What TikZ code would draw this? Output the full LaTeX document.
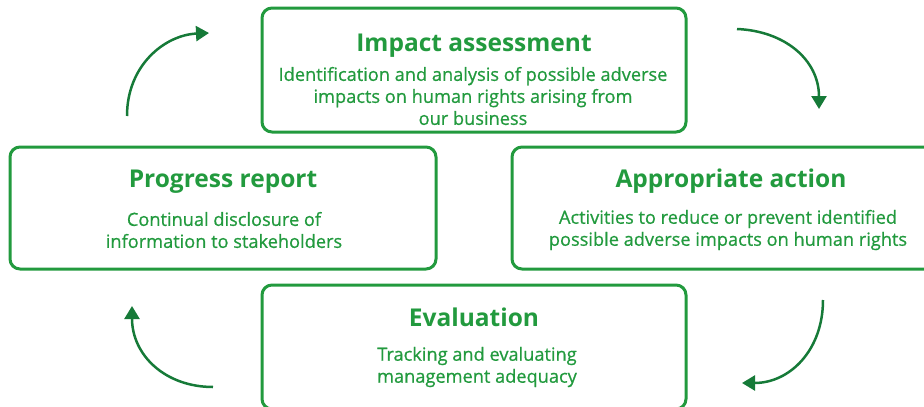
\documentclass[tikz,border=0pt]{standalone}
\usepackage{fontspec}
\setmainfont{Open Sans}
\newfontfamily\bodyfont[FakeBold=0.7]{Open Sans}
\usetikzlibrary{arrows.meta}
\definecolor{boxgreen}{RGB}{34,154,62}
\definecolor{arrowgreen}{RGB}{22,122,56}
\tikzset{
  panel/.style={draw=boxgreen,line width=3pt,rounded corners=10pt,inner sep=0pt},
  head/.style={text=boxgreen,font=\fontsize{24.5}{28}\selectfont\bfseries,anchor=base},
  body/.style={text=boxgreen,font=\bodyfont\fontsize{18.2}{22}\selectfont,align=center},
  cyclearrow/.style={draw=arrowgreen,line width=2.5pt,-{Triangle[length=13pt,width=15pt]}}
}
\begin{document}
\begin{tikzpicture}[x=1pt,y=-1pt]
\useasboundingbox (0,0) rectangle (924,407);
\clip (0,0) rectangle (924,407);
% the four stages
\node[panel,minimum width=424pt,minimum height=124pt] (assess) at (474,70) {};
\node[panel,minimum width=426pt,minimum height=122pt] (report) at (223,208) {};
\node[panel,minimum width=438pt,minimum height=122pt] (action) at (731,208) {};
\node[panel,minimum width=424pt,minimum height=124pt] (evalu) at (474,347) {};

\node[head] (assess-t) at (474,51) {Impact assessment};
\node[body] (assess-d) at (473,96) {Identification and analysis of possible adverse\\
  impacts on human rights arising from\\ our business};

\node[head] (report-t) at (223,187) {Progress report};
\node[body] (report-d) at (224,230) {Continual disclosure of\\ information to stakeholders};

\node[head] (action-t) at (731,187) {Appropriate action};
\node[body] (action-d) at (728,230) {Activities to reduce or prevent identified\\
  possible adverse impacts on human rights};

\node[head] (evalu-t) at (474,326) {Evaluation};
\node[body] (evalu-d) at (477,367) {Tracking and evaluating\\ management adequacy};

% arrows going round clockwise
\coordinate (tl0) at (127,116); \coordinate (tl1) at (209,33);
\coordinate (tr0) at (737,29);  \coordinate (tr1) at (819,109);
\coordinate (br0) at (823,300); \coordinate (br1) at (742,383);
\coordinate (bl0) at (213,387); \coordinate (bl1) at (132,306);
\draw[cyclearrow] (tl0) .. controls (127,65) and (165,35) .. (tl1);
\draw[cyclearrow] (tr0) .. controls (785,31) and (819,60) .. (tr1);
\draw[cyclearrow] (br0) .. controls (823,350) and (790,383) .. (br1);
\draw[cyclearrow] (bl0) .. controls (165,387) and (132,355) .. (bl1);
\end{tikzpicture}
\end{document}
